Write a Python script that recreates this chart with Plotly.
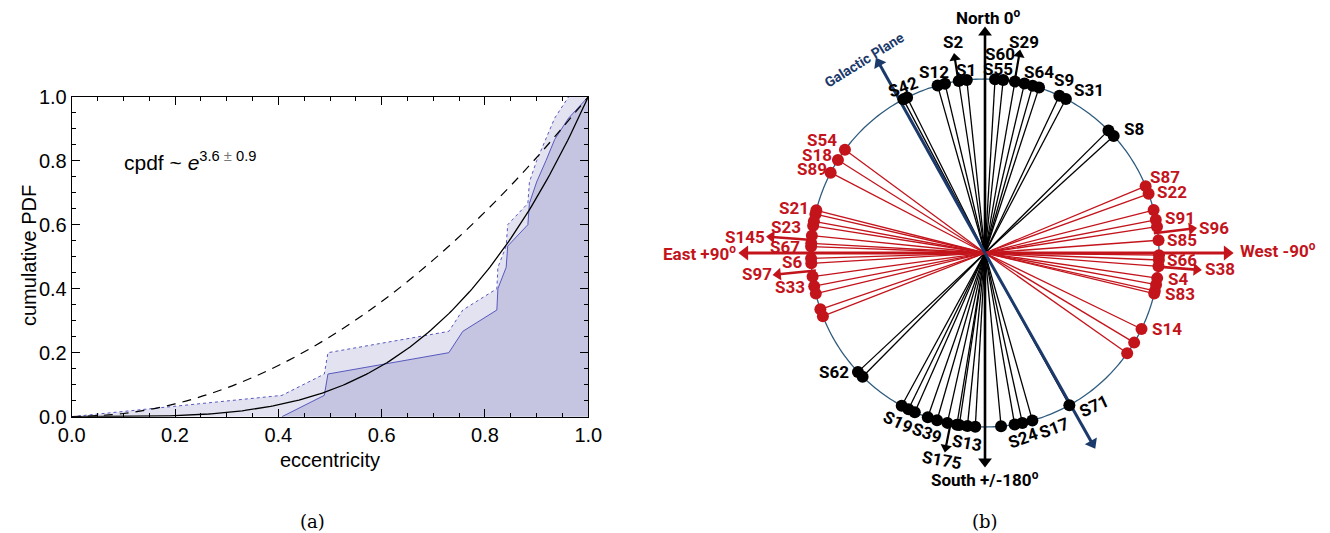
import numpy as np
import plotly.graph_objects as go

# ---------------- panel (a): eccentricity distribution ----------------
ecc_sorted = [0.407, 0.489, 0.496, 0.730, 0.757, 0.823, 0.825, 0.841,
              0.844, 0.883, 0.886, 0.900, 0.918, 0.935, 0.962]
fit_exponent = 3.6
fit_error = 0.9
thermal_x = [0.0, 0.1, 0.2, 0.3, 0.4, 0.5, 0.6, 0.7, 0.8, 0.9, 1.0]
thermal_y = [0.0, 0.01, 0.04, 0.09, 0.16, 0.25, 0.36, 0.49, 0.64, 0.81, 1.0]
axis_ticks = [0.0, 0.2, 0.4, 0.6, 0.8, 1.0]
axis_ticklabels = ["0.0", "0.2", "0.4", "0.6", "0.8", "1.0"]

# ---------------- panel (b): orientation diagram (degrees, + toward East) ----
black_dots = [28.0, 26.6, 15.8, 13.3, 8.7, 6.0, -3.3, -6.0, -9.9, -13.1,
              -15.9, -18.1, -25.3, -27.7, -45.2, -47.7,
              133.1, 135.3, 151.4, 153.9, 156.2, 160.8, 164.0, 167.5,
              170.7, 171.5, 174.2, 176.8, -174.7, -170.2, -167.6, -164.2,
              -151.0]
red_dots = [53.6, 57.7, 62.5, 75.8, 77.1, 79.5, 81.0, 84.3, 86.8, 87.9,
            91.8, 93.4, 97.8, 101.0, 103.5, 108.9, 111.3,
            -67.4, -70.1, -75.7, -79.0, -81.3, -85.8, -90.7, -92.3, -94.4,
            -98.3, -100.5, -102.6, -103.5, -115.9, -121.0, -125.2]
black_arrows = [8.8, -9.8, 168.6]           # S2, S29, S175
black_arrow_len = [202, 206, 203]
red_arrows = [85.7, 95.9, -83.3, -94.5]     # S145, S97, S96, S38
red_arrow_len = [219, 213, 213, 217]
galactic_plane = [29.2, -150.6]
galactic_len = [223, 224]

W, H = 1330, 533
R = 174.0            # circle radius (px units of the polar axis)
RMAX = 250.0
CX, CY = 985, 253    # diagram centre on the page

RED = "#C3141C"
NAVY = "#1B3A6B"
CIRCLE = "#2F5C7E"
LAV_LINE = "rgb(88,88,190)"

fig = go.Figure()

# --- panel (a) traces ---
n = len(ecc_sorted)
upper_x = [0.0] + ecc_sorted + [1.0]
upper_y = [0.0] + [(i + 1) / n for i in range(n)] + [(n + 1) / n]
lower_x = ecc_sorted + [1.0]
lower_y = [i / n for i in range(n)] + [1.0]

fig.add_trace(go.Scatter(x=upper_x, y=upper_y, mode="lines", fill="tozeroy",
                         fillcolor="rgb(226,226,241)",
                         line=dict(color=LAV_LINE, width=1, dash="dot"),
                         xaxis="x", yaxis="y", showlegend=False))
fig.add_trace(go.Scatter(x=lower_x, y=lower_y, mode="lines", fill="tozeroy",
                         fillcolor="rgb(197,197,226)",
                         line=dict(color=LAV_LINE, width=1),
                         xaxis="x", yaxis="y", showlegend=False))
fig.add_trace(go.Scatter(x=thermal_x, y=thermal_y, mode="lines",
                         line=dict(color="black", width=1.2, dash="9px,7px",
                                   shape="spline"),
                         xaxis="x", yaxis="y", showlegend=False))
fit_x = np.linspace(0, 1, 201)
fig.add_trace(go.Scatter(x=fit_x, y=fit_x ** fit_exponent, mode="lines",
                         line=dict(color="black", width=1.3),
                         xaxis="x", yaxis="y", showlegend=False))

# --- panel (b) traces (polar, 0 deg at North, + toward East / left) ---
def spokes(angles, r_end):
    r, t = [], []
    for a in angles:
        r += [0, r_end, None]
        t += [a, a, None]
    return r, t

r, t = spokes(black_dots, R)
fig.add_trace(go.Scatterpolar(r=r, theta=t, mode="lines", subplot="polar",
                              line=dict(color="black", width=1.3),
                              connectgaps=False, showlegend=False))
r, t = spokes(red_dots, R)
fig.add_trace(go.Scatterpolar(r=r, theta=t, mode="lines", subplot="polar",
                              line=dict(color=RED, width=1.3),
                              connectgaps=False, showlegend=False))

# circle
circ_t = np.linspace(0, 360, 361)
fig.add_trace(go.Scatterpolar(r=np.full_like(circ_t, R), theta=circ_t,
                              mode="lines", subplot="polar",
                              line=dict(color=CIRCLE, width=1.3),
                              showlegend=False))


def arrow(theta, r0, r1, color, width, head):
    fig.add_trace(go.Scatterpolar(r=[r0, r1 - head * 0.5], theta=[theta, theta],
                                  mode="lines", subplot="polar",
                                  line=dict(color=color, width=width),
                                  showlegend=False))
    fig.add_trace(go.Scatterpolar(r=[r1 - head * 0.45], theta=[theta],
                                  mode="markers", subplot="polar",
                                  marker=dict(symbol="triangle-up", size=head,
                                              angle=-theta, color=color,
                                              line=dict(width=0)),
                                  showlegend=False))


# main compass axes
arrow(0, 0, 226, "black", 2.6, 12)
arrow(180, 0, 214, "black", 2.6, 12)
arrow(90, 0, 246, RED, 3.0, 13)
arrow(-90, 0, 248, RED, 3.0, 13)
for a, L in zip(galactic_plane, galactic_len):
    arrow(a, 0, L, NAVY, 3.0, 12)
for a, L in zip(black_arrows, black_arrow_len):
    arrow(a, R - 4, L, "black", 2.2, 10)
for a, L in zip(red_arrows, red_arrow_len):
    arrow(a, R - 4, L, RED, 2.6, 11)

fig.add_trace(go.Scatterpolar(r=[R] * len(black_dots), theta=black_dots,
                              mode="markers", subplot="polar",
                              marker=dict(color="black", size=12),
                              showlegend=False))
fig.add_trace(go.Scatterpolar(r=[R] * len(red_dots), theta=red_dots,
                              mode="markers", subplot="polar",
                              marker=dict(color=RED, size=12),
                              showlegend=False))

# --- labels of the diagram (page pixel placement) ---
label_font = "Roboto, Lato, Liberation Sans, sans-serif"
diagram_labels = [
    ("North 0<sup>o</sup>", 988, 17, 0, "black"),
    ("S2", 953, 42, 0, "black"), ("S29", 1024, 42, 0, "black"),
    ("S60", 1000, 54, 0, "black"), ("S12", 934, 72, 0, "black"),
    ("S1", 966, 70, 0, "black"), ("S55", 998, 69, 0, "black"),
    ("S64", 1039, 72, 0, "black"), ("S9", 1064, 80, 0, "black"),
    ("S31", 1089, 90, 0, "black"), ("S8", 1134, 129, 0, "black"),
    ("S42", 903, 87, -20, "black"), ("S62", 834, 372, 0, "black"),
    ("S19", 898, 422, 25, "black"), ("S39", 927, 433, 20, "black"),
    ("S13", 967, 443, 10, "black"), ("S175", 942, 460, 10, "black"),
    ("S24", 1023, 438, -20, "black"), ("S17", 1054, 428, -20, "black"),
    ("S71", 1094, 406, -25, "black"),
    ("South +/-180<sup>o</sup>", 985, 479, 0, "black"),
    ("S54", 822, 140, 0, RED), ("S18", 817, 155, 0, RED),
    ("S89", 812, 169, 0, RED), ("S21", 794, 208, 0, RED),
    ("S23", 786, 227, 0, RED), ("S145", 745, 237, 0, RED),
    ("S67", 785, 247, 0, RED), ("East +90<sup>o</sup>", 699, 253, 0, RED),
    ("S6", 792, 262, 0, RED), ("S97", 757, 274, 0, RED),
    ("S33", 790, 287, 0, RED), ("S87", 1165, 177, 0, RED),
    ("S22", 1172, 192, 0, RED), ("S91", 1180, 218, 0, RED),
    ("S96", 1214, 228, 0, RED), ("S85", 1182, 240, 0, RED),
    ("West -90<sup>o</sup>", 1278, 250, 0, RED), ("S66", 1182, 260, 0, RED),
    ("S38", 1220, 269, 0, RED), ("S4", 1178, 279, 0, RED),
    ("S83", 1180, 294, 0, RED), ("S14", 1167, 329, 0, RED),
]
annotations = []
for text, px, py, rot, col in diagram_labels:
    annotations.append(dict(text="<b>" + text + "</b>", x=px / W, y=1 - py / H,
                            xref="paper", yref="paper", showarrow=False,
                            textangle=rot, xanchor="center", yanchor="middle",
                            font=dict(family=label_font, size=17, color=col)))
annotations.append(dict(text="<b>Galactic Plane</b>", x=864 / W, y=1 - 60 / H,
                        xref="paper", yref="paper", showarrow=False,
                        xanchor="center", yanchor="middle",
                        textangle=-32, font=dict(family=label_font, size=14,
                                                 color=NAVY)))

# --- panel (a) formula, y title and captions ---
annotations.append(dict(
    text="cpdf ~ <i>e</i><sup>3.6 <span style='color:#777'>±</span> 0.9</sup>",
    x=0.098, y=0.80, xref="x", yref="y", xanchor="left", yanchor="middle",
    showarrow=False, font=dict(family="Liberation Sans, Arial", size=21,
                               color="black")))
annotations.append(dict(text="cumulative PDF", x=29 / W, y=1 - 256 / H,
                        xref="paper", yref="paper", showarrow=False,
                        xanchor="center", yanchor="middle", textangle=-90,
                        font=dict(family="Liberation Sans, Arial", size=20,
                                  color="black")))
for cap, px in (("(a)", 312), ("(b)", 985)):
    annotations.append(dict(text=cap, x=px / W, y=1 - 521 / H, xref="paper",
                            yref="paper", showarrow=False,
                            xanchor="center", yanchor="middle",
                            font=dict(family="DejaVu Serif, Liberation Serif",
                                      size=18, color="black")))

axis_common = dict(range=[0, 1], tickvals=axis_ticks, ticktext=axis_ticklabels,
                   ticks="inside", ticklen=8, tickwidth=1, tickcolor="black",
                   showline=True, linecolor="black", linewidth=1,
                   mirror="ticks", showgrid=False, zeroline=False,
                   automargin=False,
                   tickfont=dict(family="Liberation Sans, Arial", size=20,
                                 color="black"),
                   minor=dict(dtick=0.05, ticks="inside", ticklen=4,
                              tickcolor="black", tickwidth=1, showgrid=False))
title_font = dict(family="Liberation Sans, Arial", size=20, color="black")

fig.update_layout(
    template="none",
    width=W, height=H, margin=dict(l=0, r=0, t=0, b=0, autoexpand=False),
    paper_bgcolor="white", plot_bgcolor="white",
    xaxis=dict(domain=[71.7 / W, 588.3 / W], anchor="y",
               title=dict(text="eccentricity", standoff=8, font=title_font),
               **axis_common),
    yaxis=dict(domain=[1 - 416.7 / H, 1 - 96.7 / H], anchor="x",
               **axis_common),
    polar=dict(domain=dict(x=[(CX - RMAX) / W, (CX + RMAX) / W],
                           y=[1 - (CY + RMAX) / H, 1 - (CY - RMAX) / H]),
               bgcolor="rgba(0,0,0,0)",
               radialaxis=dict(range=[0, RMAX], visible=False, showgrid=False),
               angularaxis=dict(rotation=90, direction="counterclockwise",
                                visible=False, showgrid=False, showline=False)),
    annotations=annotations,
    showlegend=False,
)

fig.write_html("out.html")
